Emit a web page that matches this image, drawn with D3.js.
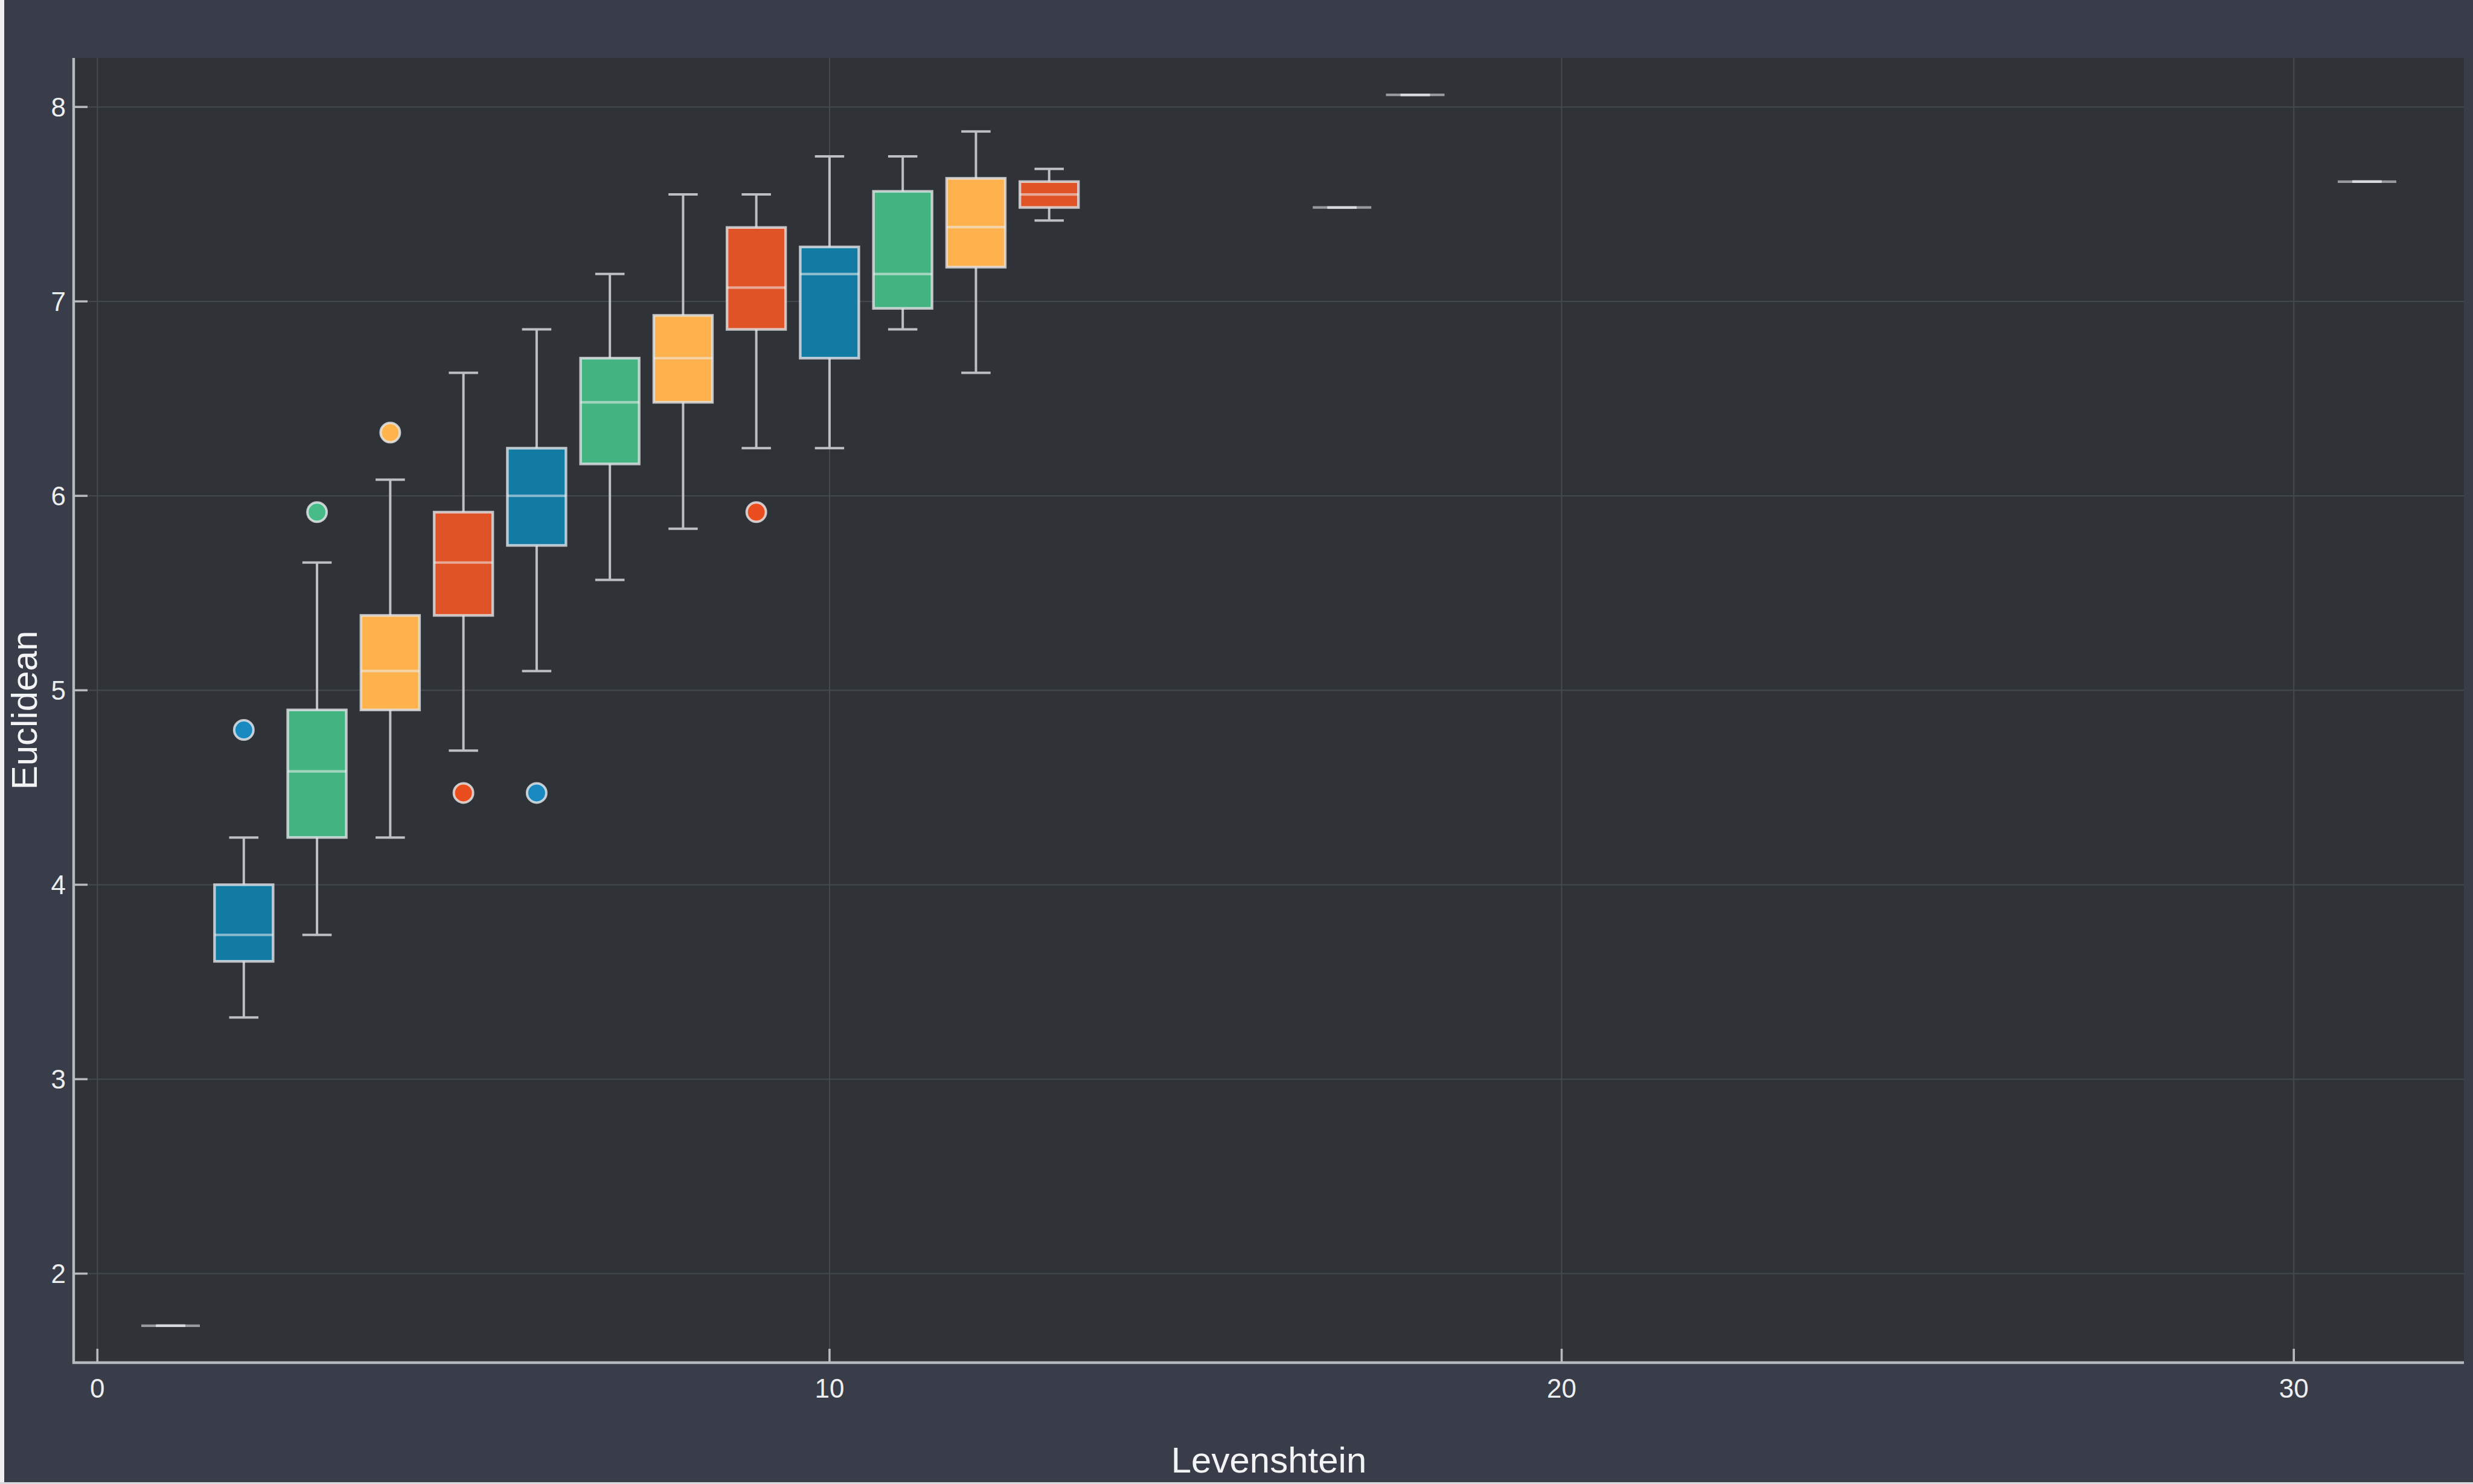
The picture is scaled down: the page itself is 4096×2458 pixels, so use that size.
<!DOCTYPE html>
<html>
<head>
<meta charset="utf-8">
<script src="https://cdn.jsdelivr.net/npm/d3@7"></script>
<style>
  html, body { margin: 0; padding: 0; background: #393d49; }
  svg { display: block; }
</style>
</head>
<body>
<svg id="chart" width="4096" height="2458"></svg>
<script>
// Levenshtein distance groups and the Euclidean distance summary for each group
const levenshtein = [1, 2, 3, 4, 5, 6, 7, 8, 9, 10, 11, 12, 13, 17, 18, 31];
const whiskerLow  = [1.732, 3.317, 3.742, 4.243, 4.690, 5.099, 5.568, 5.831, 6.245, 6.245, 6.856, 6.633, 7.416, 7.483, 8.062, 7.616];
const q1          = [1.732, 3.606, 4.243, 4.899, 5.385, 5.745, 6.164, 6.481, 6.856, 6.708, 6.964, 7.176, 7.483, 7.483, 8.062, 7.616];
const median      = [1.732, 3.742, 4.583, 5.099, 5.657, 6.000, 6.481, 6.708, 7.071, 7.141, 7.141, 7.382, 7.550, 7.483, 8.062, 7.616];
const q3          = [1.732, 4.000, 4.899, 5.385, 5.916, 6.245, 6.708, 6.928, 7.380, 7.280, 7.566, 7.633, 7.616, 7.483, 8.062, 7.616];
const whiskerHigh = [1.732, 4.243, 5.657, 6.083, 6.633, 6.856, 7.141, 7.550, 7.550, 7.746, 7.746, 7.874, 7.681, 7.483, 8.062, 7.616];

// Points beyond the whiskers
const outlierX = [2, 3, 4, 5, 6, 9];
const outlierY = [4.796, 5.916, 6.325, 4.472, 4.472, 5.916];

// Series colours, cycled by group order
const palette = ["#df5326", "#117ba4", "#42b482", "#fdb24d"];
const pointPalette = ["#ea4e1e", "#1a89c0", "#47bb88", "#ffb54c"];

const xTicks = [0, 10, 20, 30];
const yTicks = [2, 3, 4, 5, 6, 7, 8];
const xTitle = "Levenshtein";
const yTitle = "Euclidean";

const W = 4096, H = 2458;
const plot = { left: 122, right: 4081, top: 96, bottom: 2257 };
const boxWidth = 0.8;
const font = "'Liberation Sans', Arial, Helvetica, sans-serif";

const svg = d3.select("#chart");

// Page background and thin light edges of the figure
svg.append("rect").attr("width", W).attr("height", H).attr("fill", "#393d49");
svg.append("rect").attr("x", 0).attr("y", 0).attr("width", 7).attr("height", H).attr("fill", "#eef0f2");
svg.append("rect").attr("x", 0).attr("y", H - 3).attr("width", W).attr("height", 3).attr("fill", "#d8dadd");

// Plot panel
svg.append("rect")
  .attr("x", plot.left).attr("y", plot.top)
  .attr("width", plot.right - plot.left).attr("height", plot.bottom - plot.top)
  .attr("fill", "#2f3338");

// Axis ranges widened by 3% on each side of the data extent
const xLo = d3.min(levenshtein) - boxWidth / 2, xHi = d3.max(levenshtein) + boxWidth / 2;
const yLo = Math.min(d3.min(whiskerLow), d3.min(outlierY));
const yHi = Math.max(d3.max(whiskerHigh), d3.max(outlierY));
const xPad = (xHi - xLo) * 0.03, yPad = (yHi - yLo) * 0.03;

const x = d3.scaleLinear().domain([xLo - xPad, xHi + xPad]).range([plot.left, plot.right]);
const y = d3.scaleLinear().domain([yLo - yPad, yHi + yPad]).range([plot.bottom, plot.top]);

// Grid
const grid = svg.append("g").attr("stroke", "#454950").attr("stroke-width", 2);
grid.selectAll("line.gx").data(xTicks).join("line").attr("class", "gx")
  .attr("x1", d => x(d)).attr("x2", d => x(d))
  .attr("y1", plot.top).attr("y2", plot.bottom);
grid.selectAll("line.gy").data(yTicks).join("line").attr("class", "gy")
  .attr("x1", plot.left).attr("x2", plot.right)
  .attr("y1", d => y(d)).attr("y2", d => y(d));

// Boxes
const groups = levenshtein.map((lv, i) => ({
  lv, i, lo: whiskerLow[i], q1: q1[i], med: median[i], q3: q3[i], hi: whiskerHigh[i],
  color: palette[i % palette.length]
}));

const bw = x(boxWidth) - x(0);
const capW = bw / 2;
const whiskerColor = "#bcc0c5";
const whiskerWidth = 4;
const boxes = svg.append("g");

const g = boxes.selectAll("g.box").data(groups).join("g").attr("class", "box");

// whiskers and caps
g.append("line")
  .attr("x1", d => x(d.lv)).attr("x2", d => x(d.lv))
  .attr("y1", d => y(d.q3)).attr("y2", d => y(d.hi))
  .attr("stroke", whiskerColor).attr("stroke-width", whiskerWidth);
g.append("line")
  .attr("x1", d => x(d.lv)).attr("x2", d => x(d.lv))
  .attr("y1", d => y(d.q1)).attr("y2", d => y(d.lo))
  .attr("stroke", whiskerColor).attr("stroke-width", whiskerWidth);
g.append("line")
  .attr("x1", d => x(d.lv) - capW / 2).attr("x2", d => x(d.lv) + capW / 2)
  .attr("y1", d => y(d.hi)).attr("y2", d => y(d.hi))
  .attr("stroke", whiskerColor).attr("stroke-width", whiskerWidth);
g.append("line")
  .attr("x1", d => x(d.lv) - capW / 2).attr("x2", d => x(d.lv) + capW / 2)
  .attr("y1", d => y(d.lo)).attr("y2", d => y(d.lo))
  .attr("stroke", whiskerColor).attr("stroke-width", whiskerWidth);

// interquartile box
g.append("rect")
  .attr("x", d => x(d.lv) - bw / 2).attr("width", bw)
  .attr("y", d => y(d.q3)).attr("height", d => y(d.q1) - y(d.q3))
  .attr("fill", d => d.color)
  .attr("stroke", "#e2e4e7").attr("stroke-opacity", 0.8)
  .attr("stroke-width", d => d.q3 === d.q1 ? 5.5 : 4.4);

// median
g.append("line")
  .attr("x1", d => x(d.lv) - bw / 2).attr("x2", d => x(d.lv) + bw / 2)
  .attr("y1", d => y(d.med)).attr("y2", d => y(d.med))
  .attr("stroke", "#eceef0").attr("stroke-opacity", 0.55).attr("stroke-width", 4.2);

// Outliers
const pts = outlierX.map((lv, k) => ({ lv, v: outlierY[k], i: levenshtein.indexOf(lv) }));
svg.append("g").selectAll("circle").data(pts).join("circle")
  .attr("cx", d => x(d.lv)).attr("cy", d => y(d.v)).attr("r", 16)
  .attr("fill", d => pointPalette[d.i % pointPalette.length])
  .attr("stroke", "#e6e8ea").attr("stroke-opacity", 0.82).attr("stroke-width", 4);

// Axes
const axisColor = "#b6babf";
const tickLen = 23;
const axes = svg.append("g");
axes.append("line")
  .attr("x1", plot.left).attr("x2", plot.left)
  .attr("y1", plot.top).attr("y2", plot.bottom + 2)
  .attr("stroke", axisColor).attr("stroke-width", 4.4);
axes.append("line")
  .attr("x1", plot.left - 2).attr("x2", plot.right)
  .attr("y1", plot.bottom).attr("y2", plot.bottom)
  .attr("stroke", axisColor).attr("stroke-width", 4.4);

axes.selectAll("line.tx").data(xTicks).join("line").attr("class", "tx")
  .attr("x1", d => x(d)).attr("x2", d => x(d))
  .attr("y1", plot.bottom).attr("y2", plot.bottom - tickLen)
  .attr("stroke", axisColor).attr("stroke-width", 3.6);
axes.selectAll("line.ty").data(yTicks).join("line").attr("class", "ty")
  .attr("x1", plot.left).attr("x2", plot.left + tickLen)
  .attr("y1", d => y(d)).attr("y2", d => y(d))
  .attr("stroke", axisColor).attr("stroke-width", 3.6);

axes.selectAll("text.lx").data(xTicks).join("text").attr("class", "lx")
  .attr("x", d => x(d)).attr("y", plot.bottom + 58)
  .attr("text-anchor", "middle")
  .attr("font-family", font).attr("font-size", 44).attr("fill", "#eceef0")
  .text(d => d3.format("d")(d));
axes.selectAll("text.ly").data(yTicks).join("text").attr("class", "ly")
  .attr("x", plot.left - 13).attr("y", d => y(d)).attr("dy", "0.36em")
  .attr("text-anchor", "end")
  .attr("font-family", font).attr("font-size", 44).attr("fill", "#eceef0")
  .text(d => d3.format("d")(d));

// Axis titles
svg.append("text")
  .attr("x", (plot.left + plot.right) / 2).attr("y", 2439)
  .attr("text-anchor", "middle")
  .attr("font-family", font).attr("font-size", 60).attr("fill", "#f2f3f5")
  .text(xTitle);
svg.append("text")
  .attr("transform", `translate(61, ${(plot.top + plot.bottom) / 2}) rotate(-90)`)
  .attr("text-anchor", "middle")
  .attr("font-family", font).attr("font-size", 60).attr("fill", "#f2f3f5")
  .text(yTitle);
</script>
</body>
</html>
